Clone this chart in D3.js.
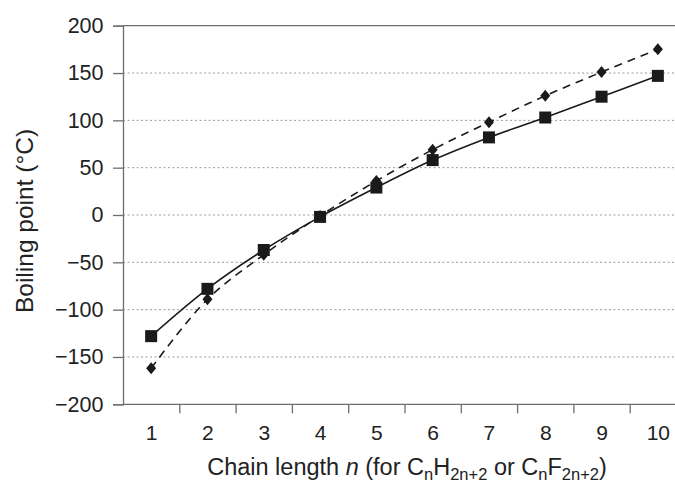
<!DOCTYPE html>
<html>
<head>
<meta charset="utf-8">
<script src="https://d3js.org/d3.v7.min.js"></script>
<style>
  body { margin: 0; background: #fff; }
  text { font-family: "Liberation Sans", Arial, sans-serif; fill: #222; }
</style>
</head>
<body>
<svg id="chart"></svg>
<script>
    // chain length n
    var chainLength = [1, 2, 3, 4, 5, 6, 7, 8, 9, 10];
    // perfluoroalkanes CnF2n+2 (squares, solid)
    var fluoroBP = [-128, -78, -37, -2, 29, 58, 82, 103, 125, 147];
    // alkanes CnH2n+2 (diamonds, dashed)
    var alkaneBP = [-162, -89, -42, -1, 36, 69, 98, 126, 151, 175];
    var yTicks = [-200, -150, -100, -50, 0, 50, 100, 150, 200];
    var gridTicks = [-150, -100, -50, 0, 50, 100, 150];

    var width = 675, height = 483;
    var plotLeft = 123, plotTop = 25.7, plotBottom = 404.3, plotRight = 686;

    var svg = d3.select("#chart")
        .attr("width", width)
        .attr("height", height);

    var x = d3.scaleLinear().domain([0.5, 10.5]).range([plotLeft, plotRight]);
    var y = d3.scaleLinear().domain([-200, 200]).range([plotBottom, plotTop]);

    // dotted grid lines
    svg.append("g")
        .selectAll("line")
        .data(gridTicks)
        .join("line")
        .attr("x1", plotLeft).attr("x2", width)
        .attr("y1", d => y(d)).attr("y2", d => y(d))
        .style("stroke", "#9a9a9a")
        .style("stroke-width", 1)
        .style("stroke-dasharray", "2,2.5");

    // top frame line
    svg.append("line")
        .attr("x1", plotLeft).attr("x2", width)
        .attr("y1", y(200)).attr("y2", y(200))
        .style("stroke", "#6e6e6e")
        .style("stroke-width", 1.3);

    // y axis
    var yAxis = svg.append("g")
        .attr("transform", "translate(" + plotLeft + ",0)")
        .call(d3.axisLeft(y).tickValues(yTicks).tickSize(10).tickPadding(9.5)
            .tickFormat(d => d < 0 ? "\u2212" + Math.abs(d) : d));
    yAxis.select(".domain").style("stroke", "#6e6e6e").style("stroke-width", 1.3);
    yAxis.selectAll(".tick line").style("stroke", "#6e6e6e").style("stroke-width", 1.3);
    yAxis.selectAll("text").style("font-size", "21.5px").style("font-family", "Liberation Sans, Arial, sans-serif").attr("fill", "#222");

    // x axis: ticks between categories
    var xAxis = svg.append("g")
        .attr("transform", "translate(0," + plotBottom + ")")
        .call(d3.axisBottom(x).tickValues(chainLength.map(d => d + 0.5)).tickSize(9).tickFormat(""));
    xAxis.select(".domain").remove();
    xAxis.selectAll(".tick line").style("stroke", "#6e6e6e").style("stroke-width", 1.3);
    svg.append("line")
        .attr("x1", plotLeft).attr("x2", width)
        .attr("y1", plotBottom).attr("y2", plotBottom)
        .style("stroke", "#6e6e6e")
        .style("stroke-width", 1.3);

    // x labels
    var xLabels = svg.append("g")
        .attr("transform", "translate(0," + plotBottom + ")")
        .call(d3.axisBottom(x).tickValues(chainLength).tickSize(0).tickPadding(21));
    xLabels.select(".domain").remove();
    xLabels.selectAll("text").style("font-size", "21px").style("font-family", "Liberation Sans, Arial, sans-serif").attr("fill", "#222");

    // lines
    var bpLine = d3.line()
        .x((d, i) => x(chainLength[i]))
        .y(d => y(d))
        .curve(d3.curveCatmullRom);

    svg.append("path")
        .datum(alkaneBP)
        .attr("d", bpLine)
        .attr("fill", "none")
        .style("stroke", "#1a1a1a")
        .style("stroke-width", 1.6)
        .style("stroke-dasharray", "8,6");

    svg.append("path")
        .datum(fluoroBP)
        .attr("d", bpLine)
        .attr("fill", "none")
        .style("stroke", "#1a1a1a")
        .style("stroke-width", 1.6);

    // diamonds
    svg.append("g")
        .selectAll("path")
        .data(alkaneBP)
        .join("path")
        .attr("transform", (d, i) => "translate(" + x(chainLength[i]) + "," + y(d) + ")")
        .attr("d", "M0,-6L5,0L0,6L-5,0Z")
        .attr("fill", "#1a1a1a");

    // squares
    svg.append("g")
        .selectAll("rect")
        .data(fluoroBP)
        .join("rect")
        .attr("x", (d, i) => x(chainLength[i]) - 6)
        .attr("y", d => y(d) - 6)
        .attr("width", 12)
        .attr("height", 12)
        .attr("fill", "#1a1a1a");

    // axis titles
    svg.append("text")
        .attr("transform", "translate(33,221) rotate(-90)")
        .attr("text-anchor", "middle")
        .style("font-size", "24.5px")
        .text("Boiling point (\u00b0C)");

    var xt = svg.append("text")
        .attr("x", 407)
        .attr("y", 475)
        .attr("text-anchor", "middle")
        .style("font-size", "23.5px");
    xt.append("tspan").text("Chain length ");
    xt.append("tspan").style("font-style", "italic").text("n");
    xt.append("tspan").text(" (for C");
    xt.append("tspan").attr("dy", 5).style("font-size", "16.5px").text("n");
    xt.append("tspan").attr("dy", -5).text("H");
    xt.append("tspan").attr("dy", 5).style("font-size", "16.5px").text("2n+2");
    xt.append("tspan").attr("dy", -5).text(" or C");
    xt.append("tspan").attr("dy", 5).style("font-size", "16.5px").text("n");
    xt.append("tspan").attr("dy", -5).text("F");
    xt.append("tspan").attr("dy", 5).style("font-size", "16.5px").text("2n+2");
    xt.append("tspan").attr("dy", -5).text(")");
</script>
</body>
</html>
